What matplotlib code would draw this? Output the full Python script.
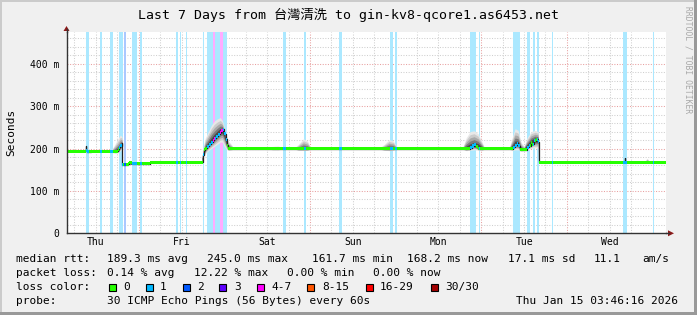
import numpy as np
import matplotlib
matplotlib.use("Agg")
import matplotlib.pyplot as plt
from matplotlib.patches import Rectangle, Polygon
from matplotlib.lines import Line2D
from matplotlib.colors import to_rgb

plt.rcParams["font.family"] = ["DejaVu Sans Mono", "Noto Sans CJK TC"]

W, H = 697, 315

# time axis: hours since Thu 2026-01-08 00:00, window ends Thu Jan 15 03:46:16
T0, T1 = 3.77, 171.77
day_names = ["Thu", "Fri", "Sat", "Sun", "Mon", "Tue", "Wed"]

# median rtt (ms), step function (value holds until next hour mark)
med_hours = [3.77, 9.10, 9.25, 9.60, 10.50, 18.30, 18.60, 18.90, 19.20, 19.45, 20.90, 21.40, 22.00, 27.30,
             42.05, 42.30, 42.70, 43.20, 43.70, 44.20, 44.70, 45.20, 45.70, 46.20, 46.70, 47.20, 47.60,
             48.00, 48.40, 48.80, 49.10, 116.90, 117.40, 118.00, 118.60, 119.20, 128.90, 129.40, 129.90,
             130.40, 130.90, 132.80, 133.30, 133.80, 134.30, 134.80, 135.30, 135.80, 136.10, 160.20, 160.40, 171.77]
med_ms = [193.5, 207, 196, 192, 193.5, 198, 203, 207, 212, 162, 163.5, 166, 164, 168,
          185, 197, 201, 205, 210, 215, 220, 224, 229, 234, 238, 242, 245,
          235, 222, 208, 199.5, 202, 206, 209, 204, 199.5, 203, 208, 212,
          207, 197, 203, 207, 214, 210, 218, 222, 216, 168, 177, 168, 168]

# packet loss periods (hours) and loss class
loss_start = [9.36, 13.28, 16.08, 18.60, 19.91, 22.24, 24.48, 34.56, 35.68, 37.36, 42.12, 43.24, 44.92,
              45.48, 46.88, 47.72, 64.52, 70.40, 80.20, 94.48, 95.88, 116.88, 117.80, 119.40, 128.92,
              132.84, 134.52, 135.64, 139.84, 159.72, 168.12]
loss_end = [10.20, 13.84, 16.92, 19.63, 20.47, 23.64, 25.04, 35.12, 35.96, 37.64, 42.40, 44.92, 45.48,
            46.88, 47.72, 48.84, 65.36, 70.96, 81.04, 95.32, 96.44, 117.65, 118.56, 119.68, 130.88,
            133.68, 135.08, 136.20, 140.12, 160.84, 168.40]
loss_class = [1, 1, 1, 1, 2, 1, 1, 1, 1, 1, 1, 1, 4,
              1, 4, 1, 1, 1, 1, 1, 1, 1, 1, 1, 1,
              1, 1, 1, 1, 1, 1]

# smoke: spread of the individual pings (ms)
smoke_hours = [15.82, 16.64, 17.48, 18.32, 18.88, 19.30, 19.44, 19.46,
               20.84, 21.40, 21.96, 22.50,
               41.56, 42.12, 42.68, 43.52, 44.36, 45.20, 46.04, 46.88, 47.44, 48.00, 48.56, 49.12, 49.96, 50.80,
               60.36, 61.48, 63.16, 64.56, 67.36, 68.76, 70.16, 71.28, 72.40,
               91.12, 92.80, 94.20, 95.32, 96.72,
               114.64, 115.76, 116.88, 118.00, 119.12, 120.24, 121.08, 127.80, 128.64, 129.48, 130.32,
               131.16, 132.00, 132.84, 133.96, 135.08, 135.92, 136.06,
               148.40, 149.00, 149.60, 165.60, 166.50, 167.30]
smoke_mid = [193, 193, 193, 196, 205, 210, 205, 163,
             163.5, 166, 164, 164,
             168, 185, 200, 208, 217, 225, 233, 240, 243, 233, 215, 200, 199, 199,
             199, 199, 199, 199, 199, 199, 199, 199, 199,
             199, 199, 200, 200, 199,
             199, 200, 203, 207, 205, 200, 199, 199, 202, 210, 210,
             198, 198, 205, 215, 220, 220, 168,
             168, 168, 168, 168, 168, 168]
smoke_lo = [193, 190, 189, 190, 195, 198, 196, 163,
            163.5, 161, 162, 164,
            168, 180, 188, 195, 200, 205, 210, 215, 215, 205, 198, 196, 197, 199,
            199, 197, 197, 199, 199, 196, 196, 196, 199,
            199, 196, 195, 196, 199,
            199, 195, 196, 197, 196, 196, 199, 199, 195, 197, 197,
            194, 195, 196, 200, 202, 200, 168,
            168, 167, 168, 168, 167, 168]
smoke_hi = [193, 200, 212, 225, 232, 228, 212, 163,
            163.5, 173, 170, 164,
            168, 205, 225, 240, 255, 265, 270, 273, 266, 250, 230, 218, 210, 199,
            199, 205, 206, 199, 199, 210, 223, 218, 199,
            199, 210, 221, 218, 199,
            199, 225, 240, 242, 235, 215, 199, 199, 225, 247, 243,
            215, 205, 225, 240, 243, 240, 168,
            168, 172, 168, 168, 177, 168]

loss_labels = ["0", "1", "2", "3", "4-7", "8-15", "16-29", "30/30"]
loss_colors = ["#26ff00", "#00b8ff", "#0059ff", "#5e00ff", "#ff00fe", "#ff5500", "#ff0000", "#a10000"]

rtt_parts = ["189.3 ms avg", "245.0 ms max", "161.7 ms min", "168.2 ms now", "17.1 ms sd", "11.1", "am/s"]
rtt_x = [107.3, 207.3, 311.7, 407.3, 508.0, 593.3, 642.0]
loss_parts = ["0.14 % avg", "12.22 % max", "0.00 % min", "0.00 % now"]
loss_x = [107.3, 194.0, 286.7, 372.7]
probe_text = "30 ICMP Echo Pings (56 Bytes) every 60s"
stamp_text = "Thu Jan 15 03:46:16 2026"


def lighten(c, a=0.33):
    r, g, b = to_rgb(c)
    return (1 - a + a * r, 1 - a + a * g, 1 - a + a * b)


def fx(px):
    return px / W


def fy(py):
    return 1 - py / H


fig = plt.figure(figsize=(W / 100, H / 100), dpi=100, facecolor="#f0f0f0")

# 3d-ish border like rrdtool
fig.add_artist(Rectangle((0, fy(2)), 1, 2 / H, transform=fig.transFigure, color="#cbcbcb", lw=0))
fig.add_artist(Rectangle((0, 0), 2 / W, 1, transform=fig.transFigure, color="#cbcbcb", lw=0))
fig.add_artist(Rectangle((0, 0), 1, 3 / H, transform=fig.transFigure, color="#999999", lw=0))
fig.add_artist(Rectangle((fx(694), 0), 3 / W, 1, transform=fig.transFigure, color="#999999", lw=0))

x0, x1, y0, y1 = 66.5, 666.0, 32.0, 233.3
ax = fig.add_axes([fx(x0), fy(y1), fx(x1) - fx(x0), fy(y0) - fy(y1)])
ax.set_facecolor("white")
ax.set_xlim(T0, T1)
ax.set_ylim(0, 475)

# grid
dot = (0, (1, 1.5))
for h in np.arange(6, T1, 6):
    col = "#e8a0a0" if h % 24 == 0 else "#cfcfcf"
    ax.axvline(h, color=col, lw=0.75, ls=dot, zorder=0)
for v in np.arange(20, 475, 20):
    col = "#e8a0a0" if v % 100 == 0 else "#cfcfcf"
    ax.axhline(v, color=col, lw=0.75, ls=dot, zorder=0)

# loss background stripes
for s, e, c in zip(loss_start, loss_end, loss_class):
    ax.axvspan(s, e, color=lighten(loss_colors[c]), lw=0, zorder=1)

# smoke
sh = np.array(smoke_hours)
sm = np.array(smoke_mid, dtype=float)
slo = np.array(smoke_lo, dtype=float)
shi = np.array(smoke_hi, dtype=float)
for f, col in zip([1.0, 0.8, 0.6, 0.4, 0.22], ["#e8e8e8", "#cccccc", "#a8a8a8", "#7a7a7a", "#4a4a4a"]):
    ax.fill_between(sh, sm - (sm - slo) * f, sm + (shi - sm) * f, color=col, lw=0, zorder=2)

# median line
mh = np.array(med_hours)
mv = np.array(med_ms, dtype=float)
sw = 3.6
ax.plot(mh, mv, drawstyle="steps-post", color="#202020", lw=0.9, zorder=3)
ax.fill_between(mh, mv - sw, mv + sw, step="post", color=loss_colors[0], lw=0, zorder=4)


def med_at(t):
    i = np.searchsorted(mh, t, side="right") - 1
    return mv[max(i, 0)]


for s, e, c in zip(loss_start, loss_end, loss_class):
    pts = [s] + [h for h in med_hours if s < h < e] + [e]
    vals = np.array([med_at(p) for p in pts])
    ax.fill_between(pts, vals - sw, vals + sw, step="post", color=loss_colors[c], lw=0, zorder=5)

# axes
for side in ["top", "right"]:
    ax.spines[side].set_visible(False)
for side in ["left", "bottom"]:
    ax.spines[side].set_color("#333333")
    ax.spines[side].set_linewidth(1)
    ax.spines[side].set_zorder(6)

ax.set_xticks(np.arange(12, T1, 24))
ax.set_xticklabels(day_names, fontsize=7)
ax.set_yticks([0, 100, 200, 300, 400])
ax.set_yticklabels(["0", "100 m", "200 m", "300 m", "400 m"], fontsize=7)
ax.tick_params(axis="x", length=0, pad=3)
ax.tick_params(axis="y", length=0, pad=5)

# axis extensions + arrows
fig.add_artist(Line2D([fx(x0), fx(x0)], [fy(y0), fy(29)], transform=fig.transFigure, color="#333333", lw=1))
fig.add_artist(Line2D([fx(x1), fx(669)], [fy(y1), fy(y1)], transform=fig.transFigure, color="#333333", lw=1))
fig.add_artist(Polygon([(fx(x0 - 3), fy(31)), (fx(x0 + 3), fy(31)), (fx(x0), fy(26))],
                       closed=True, transform=fig.transFigure, color="#8b1a1a", lw=0))
fig.add_artist(Polygon([(fx(668), fy(y1 - 3)), (fx(668), fy(y1 + 3)), (fx(674), fy(y1))],
                       closed=True, transform=fig.transFigure, color="#8b1a1a", lw=0))

# texts
fig.text(fx(348), fy(15), "Last 7 Days from 台灣清洗 to gin-kv8-qcore1.as6453.net",
         ha="center", va="center", fontsize=9.5)
fig.text(fx(11), fy(132), "Seconds", rotation=90, ha="center", va="center", fontsize=8)
fig.text(fx(688), fy(60), "RRDTOOL / TOBI OETIKER", rotation=270, ha="center", va="center",
         fontsize=5.8, color="#a8a8a8")

fs = 8
fig.text(fx(16), fy(259.3), "median rtt:", ha="left", va="center", fontsize=fs)
for xx, txt in zip(rtt_x, rtt_parts):
    fig.text(fx(xx), fy(259.3), txt, ha="left", va="center", fontsize=fs)
fig.text(fx(16), fy(273.3), "packet loss:", ha="left", va="center", fontsize=fs)
for xx, txt in zip(loss_x, loss_parts):
    fig.text(fx(xx), fy(273.3), txt, ha="left", va="center", fontsize=fs)
fig.text(fx(16), fy(287.3), "loss color:", ha="left", va="center", fontsize=fs)
fig.text(fx(16), fy(301.0), "probe:", ha="left", va="center", fontsize=fs)
fig.text(fx(107.3), fy(301.0), probe_text, ha="left", va="center", fontsize=fs)
fig.text(fx(678), fy(301.0), stamp_text, ha="right", va="center", fontsize=fs)

box_x = [108.7, 145.7, 182.7, 219.3, 256.7, 307.3, 365.7, 431.0]
for bx, lab, col in zip(box_x, loss_labels, loss_colors):
    fig.add_artist(Rectangle((fx(bx), fy(291)), 7 / W, 7.5 / H, transform=fig.transFigure,
                             facecolor=col, edgecolor="black", lw=0.8))
    fig.text(fx(bx + 14.5), fy(287.3), lab, ha="left", va="center", fontsize=fs)

fig.savefig("out.png", dpi=100, facecolor=fig.get_facecolor())
